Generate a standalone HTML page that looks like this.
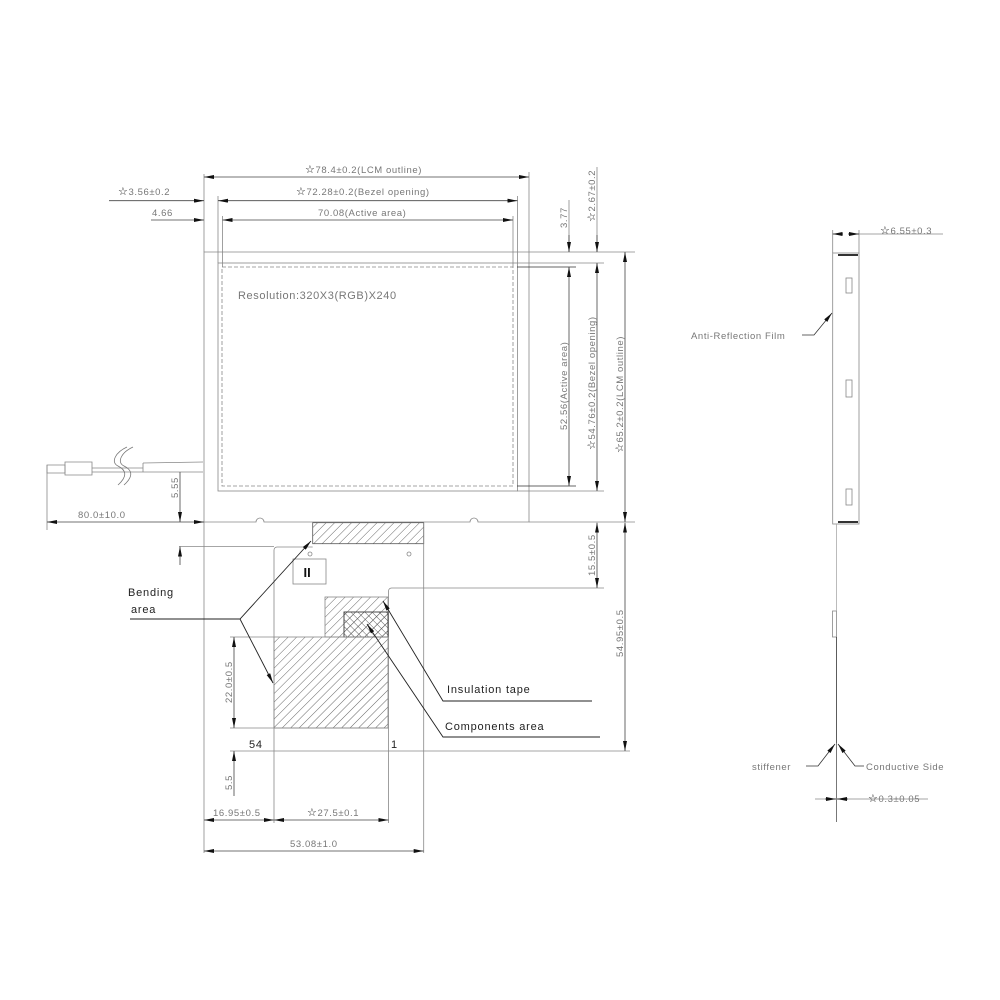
<!DOCTYPE html>
<html><head><meta charset="utf-8"><style>
html,body{margin:0;padding:0;background:#fff;}
svg{display:block;}
text{font-family:"Liberation Sans",sans-serif;}
.d{fill:#777;font-size:9.5px;letter-spacing:0.6px;}
.l{fill:#222;font-size:11px;letter-spacing:0.8px;}
.s{fill:#111;font-size:11px;}
</style></head><body>
<svg width="1000" height="1000" viewBox="0 0 1000 1000" xmlns="http://www.w3.org/2000/svg">
<defs>
<marker id="a" viewBox="0 0 10 4" refX="10" refY="2" markerWidth="10" markerHeight="4" markerUnits="userSpaceOnUse" orient="auto-start-reverse"><path d="M0,0 L10,2 L0,4Z" fill="#111"/></marker>
<pattern id="h" width="6" height="6" patternUnits="userSpaceOnUse" patternTransform="rotate(45)"><line x1="0" y1="0" x2="0" y2="6" stroke="#555" stroke-width="0.9"/></pattern>
<pattern id="h2" width="5" height="5" patternUnits="userSpaceOnUse" patternTransform="rotate(-45)"><line x1="0" y1="0" x2="0" y2="5" stroke="#555" stroke-width="0.9"/></pattern>
</defs>
<g fill="none" stroke="#888" stroke-width="0.8">
<path d="M204,252 H529 V522 H478 A4,4 0 0 0 470,522 H264 A4,4 0 0 0 256,522 H204Z"/>
<rect x="218" y="263" width="299.5" height="228"/>
<rect x="222" y="267" width="291" height="219" stroke-dasharray="4,2"/>
<line x1="204" y1="174" x2="204" y2="252"/>
<line x1="529" y1="172" x2="529" y2="252"/>
<line x1="218" y1="196" x2="218" y2="263"/>
<line x1="517.5" y1="196" x2="517.5" y2="263"/>
<line x1="222.5" y1="216" x2="222.5" y2="267"/>
<line x1="513" y1="216" x2="513" y2="267"/>
<line x1="529" y1="252" x2="635" y2="252"/>
<line x1="517" y1="263" x2="604" y2="263"/>
<line x1="517" y1="267" x2="576" y2="267" stroke="#333"/>
<line x1="517" y1="486" x2="576" y2="486" stroke="#333"/>
<line x1="517" y1="491" x2="604" y2="491"/>
<line x1="529" y1="522" x2="635" y2="522"/>
<line x1="569" y1="200" x2="569" y2="252"/>
<line x1="597" y1="167" x2="597" y2="252"/>
<rect x="312.7" y="522.7" width="111" height="21" fill="url(#h)" stroke="#555"/>
<path d="M312.7,547 H277 A3,3 0 0 0 274,550 V751"/>
<line x1="423.7" y1="522.7" x2="423.7" y2="853"/>
<path d="M388.5,823 V591 A3,3 0 0 1 391.5,588 H604"/>
<rect x="325" y="597" width="63" height="40" fill="url(#h)"/>
<rect x="344" y="612" width="44" height="25" fill="url(#h2)" stroke="#444"/>
<rect x="344" y="612" width="44" height="25" fill="url(#h)" stroke="#444"/>
<rect x="274" y="637" width="114" height="91" fill="url(#h)"/>
<line x1="230" y1="637" x2="274" y2="637"/>
<line x1="230" y1="728" x2="388" y2="728"/>
<line x1="230" y1="751" x2="630" y2="751"/>
<circle cx="310" cy="554" r="2"/>
<circle cx="409" cy="554" r="2"/>
<rect x="293" y="559" width="33" height="25"/>
<line x1="204" y1="522" x2="204" y2="853"/>
<line x1="274" y1="751" x2="274" y2="823"/>
<line x1="179" y1="546.5" x2="274" y2="546.5"/>
<line x1="47" y1="465" x2="47" y2="530"/>
<path d="M47,465 H65 V473 H47Z"/>
<path d="M65,462 H92 V475 H65Z"/>
<line x1="92" y1="468" x2="143" y2="468"/>
<line x1="92" y1="472" x2="143" y2="472"/>
<path d="M143,463 L203,462 M143,472 L203,472 M143,463 V472"/>
<path d="M118,485 C128,476 126,470 118,466 C110,462 116,452 127,447 M124,485 C134,476 132,470 124,466 C116,462 122,452 133,447" stroke="#777"/>
</g>
<g stroke="#444" stroke-width="0.8" fill="none">
<line x1="204" y1="177" x2="529" y2="177" marker-start="url(#a)" marker-end="url(#a)"/>
<line x1="109" y1="200.7" x2="204" y2="200.7" marker-end="url(#a)"/>
<line x1="218" y1="200.7" x2="517.5" y2="200.7" marker-start="url(#a)" marker-end="url(#a)"/>
<line x1="151" y1="220" x2="204" y2="220" marker-end="url(#a)"/>
<line x1="222.5" y1="220" x2="513" y2="220" marker-start="url(#a)" marker-end="url(#a)"/>
<line x1="569" y1="235" x2="569" y2="252" marker-end="url(#a)"/>
<line x1="569" y1="267" x2="569" y2="486" marker-start="url(#a)" marker-end="url(#a)"/>
<line x1="597" y1="235" x2="597" y2="252" marker-end="url(#a)"/>
<line x1="597" y1="263" x2="597" y2="491" marker-start="url(#a)" marker-end="url(#a)"/>
<line x1="625" y1="252" x2="625" y2="522" marker-start="url(#a)" marker-end="url(#a)"/>
<line x1="180" y1="472" x2="180" y2="522" marker-end="url(#a)"/>
<line x1="180" y1="546.5" x2="180" y2="565" marker-start="url(#a)"/>
<line x1="47" y1="522" x2="204" y2="522" marker-start="url(#a)" marker-end="url(#a)"/>
<line x1="597" y1="522.7" x2="597" y2="588" marker-start="url(#a)" marker-end="url(#a)"/>
<line x1="625" y1="522.7" x2="625" y2="751" marker-start="url(#a)" marker-end="url(#a)"/>
<line x1="234" y1="637" x2="234" y2="728" marker-start="url(#a)" marker-end="url(#a)"/>
<line x1="234" y1="751" x2="234" y2="796" marker-start="url(#a)"/>
<line x1="204" y1="820" x2="274" y2="820" marker-start="url(#a)" marker-end="url(#a)"/>
<line x1="274" y1="820" x2="388.5" y2="820" marker-start="url(#a)" marker-end="url(#a)"/>
<line x1="204" y1="851" x2="423.7" y2="851" marker-start="url(#a)" marker-end="url(#a)"/>
</g>
<g stroke="#222" stroke-width="0.9" fill="none">
<path d="M130,619 H240 L311,541" marker-end="url(#a)"/>
<path d="M240,619 L273,683" marker-end="url(#a)"/>
<path d="M592,701 H443 L383,601" marker-end="url(#a)"/>
<path d="M600,737 H443 L367,624" marker-end="url(#a)"/>
</g>
<text class="d" x="305" y="173"><tspan class="s">☆</tspan>78.4±0.2(LCM outline)</text>
<text class="d" x="296" y="195"><tspan class="s">☆</tspan>72.28±0.2(Bezel opening)</text>
<text class="d" x="318" y="216">70.08(Active area)</text>
<text class="d" x="118" y="195"><tspan class="s">☆</tspan>3.56±0.2</text>
<text class="d" x="152" y="216">4.66</text>
<text class="d" x="238" y="299" style="font-size:11px">Resolution:320X3(RGB)X240</text>
<text class="d" transform="translate(567,228) rotate(-90)">3.77</text>
<text class="d" transform="translate(595,222) rotate(-90)"><tspan class="s">☆</tspan>2.67±0.2</text>
<text class="d" transform="translate(567,430) rotate(-90)">52.56(Active area)</text>
<text class="d" transform="translate(595,450) rotate(-90)"><tspan class="s">☆</tspan>54.76±0.2(Bezel opening)</text>
<text class="d" transform="translate(623,453) rotate(-90)"><tspan class="s">☆</tspan>65.2±0.2(LCM outline)</text>
<text class="d" transform="translate(178,498) rotate(-90)">5.55</text>
<text class="d" x="78" y="518">80.0±10.0</text>
<text class="d" transform="translate(595,576) rotate(-90)">15.5±0.5</text>
<text class="d" transform="translate(623,657) rotate(-90)">54.95±0.5</text>
<text class="d" transform="translate(232,703) rotate(-90)">22.0±0.5</text>
<text class="d" transform="translate(232,790) rotate(-90)">5.5</text>
<text class="d" x="213" y="816">16.95±0.5</text>
<text class="d" x="307" y="816"><tspan class="s">☆</tspan>27.5±0.1</text>
<text class="d" x="290" y="847">53.08±1.0</text>
<text class="l" x="249" y="748">54</text>
<text class="l" x="391" y="748">1</text>
<text x="303.5" y="577" style="font-size:13px;font-weight:bold" fill="#111">II</text>
<text class="l" x="128" y="596">Bending</text>
<text class="l" x="131" y="613">area</text>
<text class="l" x="447" y="693">Insulation tape</text>
<text class="l" x="445" y="730">Components area</text>
<g fill="none" stroke="#888" stroke-width="0.8">
<rect x="832.7" y="253" width="26.3" height="271"/>
<line x1="838" y1="255" x2="858" y2="255" stroke="#333" stroke-width="2"/>
<line x1="838" y1="522" x2="858" y2="522" stroke="#333" stroke-width="2"/>
<rect x="846" y="278" width="6" height="15"/>
<rect x="846" y="380" width="6" height="17"/>
<rect x="846" y="489" width="6" height="16"/>
<line x1="832.7" y1="230" x2="832.7" y2="253"/>
<line x1="859" y1="230" x2="859" y2="253"/>
<line x1="859" y1="234" x2="943" y2="234"/>
<rect x="832.5" y="611" width="4" height="26"/>
<line x1="836.5" y1="524" x2="836.5" y2="611" stroke="#aaa"/>
<line x1="836.5" y1="637" x2="836.5" y2="743" stroke="#333"/>
<line x1="836.5" y1="743" x2="836.5" y2="822" stroke="#555"/>
<line x1="815" y1="799" x2="928" y2="799"/>
</g>
<g stroke="#333" stroke-width="0.8" fill="none">
<line x1="848" y1="234" x2="859" y2="234" marker-end="url(#a)"/>
<line x1="843" y1="234" x2="832.7" y2="234" marker-end="url(#a)"/>
<path d="M802,335 H814 L832,313" marker-end="url(#a)"/>
<path d="M806,766 H818 L835,744" marker-end="url(#a)"/>
<path d="M864,766 H855 L838,744" marker-end="url(#a)"/>
<line x1="825" y1="799" x2="836" y2="799" marker-end="url(#a)"/>
<line x1="848" y1="799" x2="837" y2="799" marker-end="url(#a)"/>
</g>
<text class="d" x="880" y="234"><tspan class="s">☆</tspan>6.55±0.3</text>
<text class="d" x="691" y="339">Anti-Reflection Film</text>
<text class="d" x="752" y="770">stiffener</text>
<text class="d" x="866" y="770">Conductive Side</text>
<text class="d" x="868" y="802"><tspan class="s">☆</tspan>0.3±0.05</text>
</svg>
</body></html>
